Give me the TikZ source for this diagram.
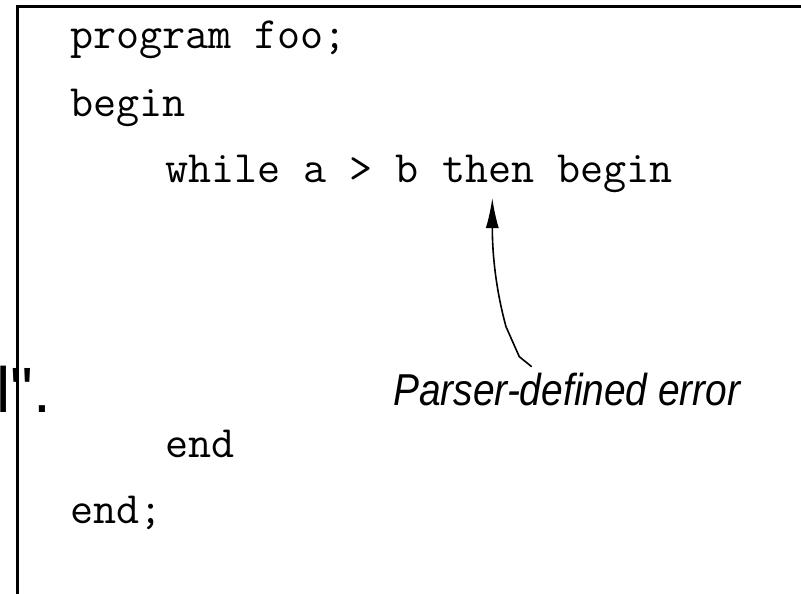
\documentclass[tikz,border=0pt]{standalone}
\usepackage{fontspec}
\newfontfamily\labelfont{Liberation Sans}
\usetikzlibrary{arrows.meta}
\begin{document}
\begin{tikzpicture}[x=1pt,y=-1pt,
  code/.style={anchor=base west,inner sep=0pt,font=\fontsize{44.8}{50}\ttfamily},
  frame/.style={line width=3pt},
  callout/.style={line width=1.6pt,-{Latex[length=30pt,width=13pt]}}]
\useasboundingbox (0,0) rectangle (801,594);
\draw[frame] (17.3,594) -- (17.3,6.5) -- (801,6.5);
\node[code] (l1) at (70,49) {program foo;};
\node[code] (l2) at (70,116) {begin};
\node[code] (l3) at (165,182) {while a > b then begin};
\node[code] (l4) at (165,457) {end};
\node[code] (l5) at (70,523) {end;};
\node[anchor=base west,inner sep=0pt,font=\fontsize{64}{70}\labelfont] (frag) at (-4,412) {l".};
\node[anchor=base west,inner sep=0pt,xscale=0.87,font=\fontsize{44.7}{50}\labelfont\itshape] (lbl) at (393,405) {Parser-defined error};
\coordinate (src) at (531.7,366.7);
\coordinate (tip) at (492.3,198);
\draw[callout] (src) -- (519.3,356.7) -- (506,326.7) .. controls (496,290) and (492.3,255) .. (tip);
\end{tikzpicture}
\end{document}
